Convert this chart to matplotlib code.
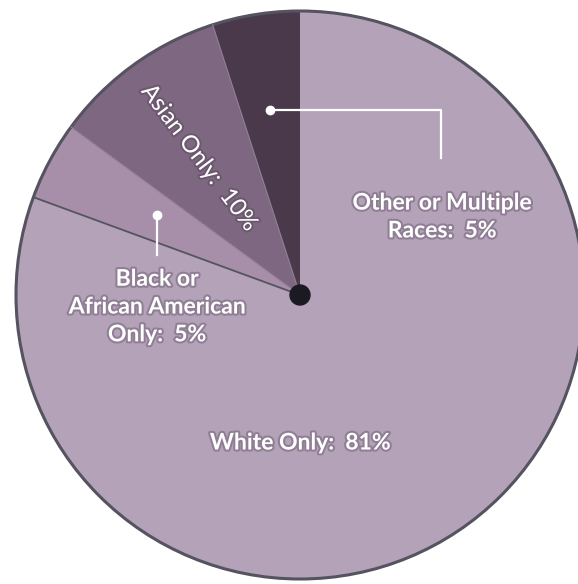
import numpy as np
import matplotlib.pyplot as plt
import matplotlib.patheffects as pe
from matplotlib.patches import Circle

# slices, counter-clockwise from 12 o'clock
groups = ["Other or Multiple\nRaces:  5%", "Asian Only:  10%",
          "Black or\nAfrican American\nOnly:  5%", "White Only:  81%"]
shares = [5.0, 10.0, 4.5, 81.0]
colors = ["#4a394b", "#7e6781", "#a78fa9", "#b4a2b9"]

W, H = 578, 584
fig = plt.figure(figsize=(W / 100, H / 100), dpi=100)
ax = fig.add_axes([0, 0, 1, 1])

cx, cy, r = 300, H - 295, 284

wedges, _ = ax.pie(shares, colors=colors, startangle=90, counterclock=True,
                   center=(cx, cy), radius=r, frame=True,
                   wedgeprops=dict(linewidth=0))
ax.set_xlim(0, W)
ax.set_ylim(0, H)
ax.set_aspect("equal")
ax.axis("off")

# outline + dark boundary between White and Black
ax.add_patch(Circle((cx, cy), r, fill=False, ec="#55535f", lw=2.2, zorder=3))
t = np.radians(wedges[2].theta2)
ax.plot([cx, cx + r * np.cos(t)], [cy, cy + r * np.sin(t)], color="#55535f", lw=1.3, zorder=3)
for i in (0, 1):
    t = np.radians(wedges[i].theta2)
    ax.plot([cx, cx + r * np.cos(t)], [cy, cy + r * np.sin(t)], color="#8d7d93", lw=0.8, zorder=3)

ax.add_patch(Circle((cx, cy), 10, color="#1b1a22", zorder=5))

fx = [pe.withStroke(linewidth=3, foreground="#4d3f50", alpha=0.35)]
txt = dict(color="white", fontsize=16.5, fontweight="bold", family="Lato",
           ha="center", va="center", path_effects=fx, linespacing=1.4, zorder=6)

ax.text(300, H - 443, groups[3], **txt)
ax.text(442, H - 217, groups[0], **txt)
ax.text(157, H - 307, groups[2], **txt)
ax.text(199, H - 158, groups[1], rotation=-53, **dict(txt, fontweight="normal", fontsize=17))

# leader lines
ax.plot([270, 441, 441], [H - 110, H - 110, H - 158], color="white", lw=1.6, zorder=6)
ax.plot([270], [H - 110], "o", color="white", ms=6, zorder=6)
ax.plot([157, 157], [H - 215, H - 255], color="white", lw=1.6, zorder=6)
ax.plot([157], [H - 215], "o", color="white", ms=6, zorder=6)

fig.savefig("out.png", dpi=100)
